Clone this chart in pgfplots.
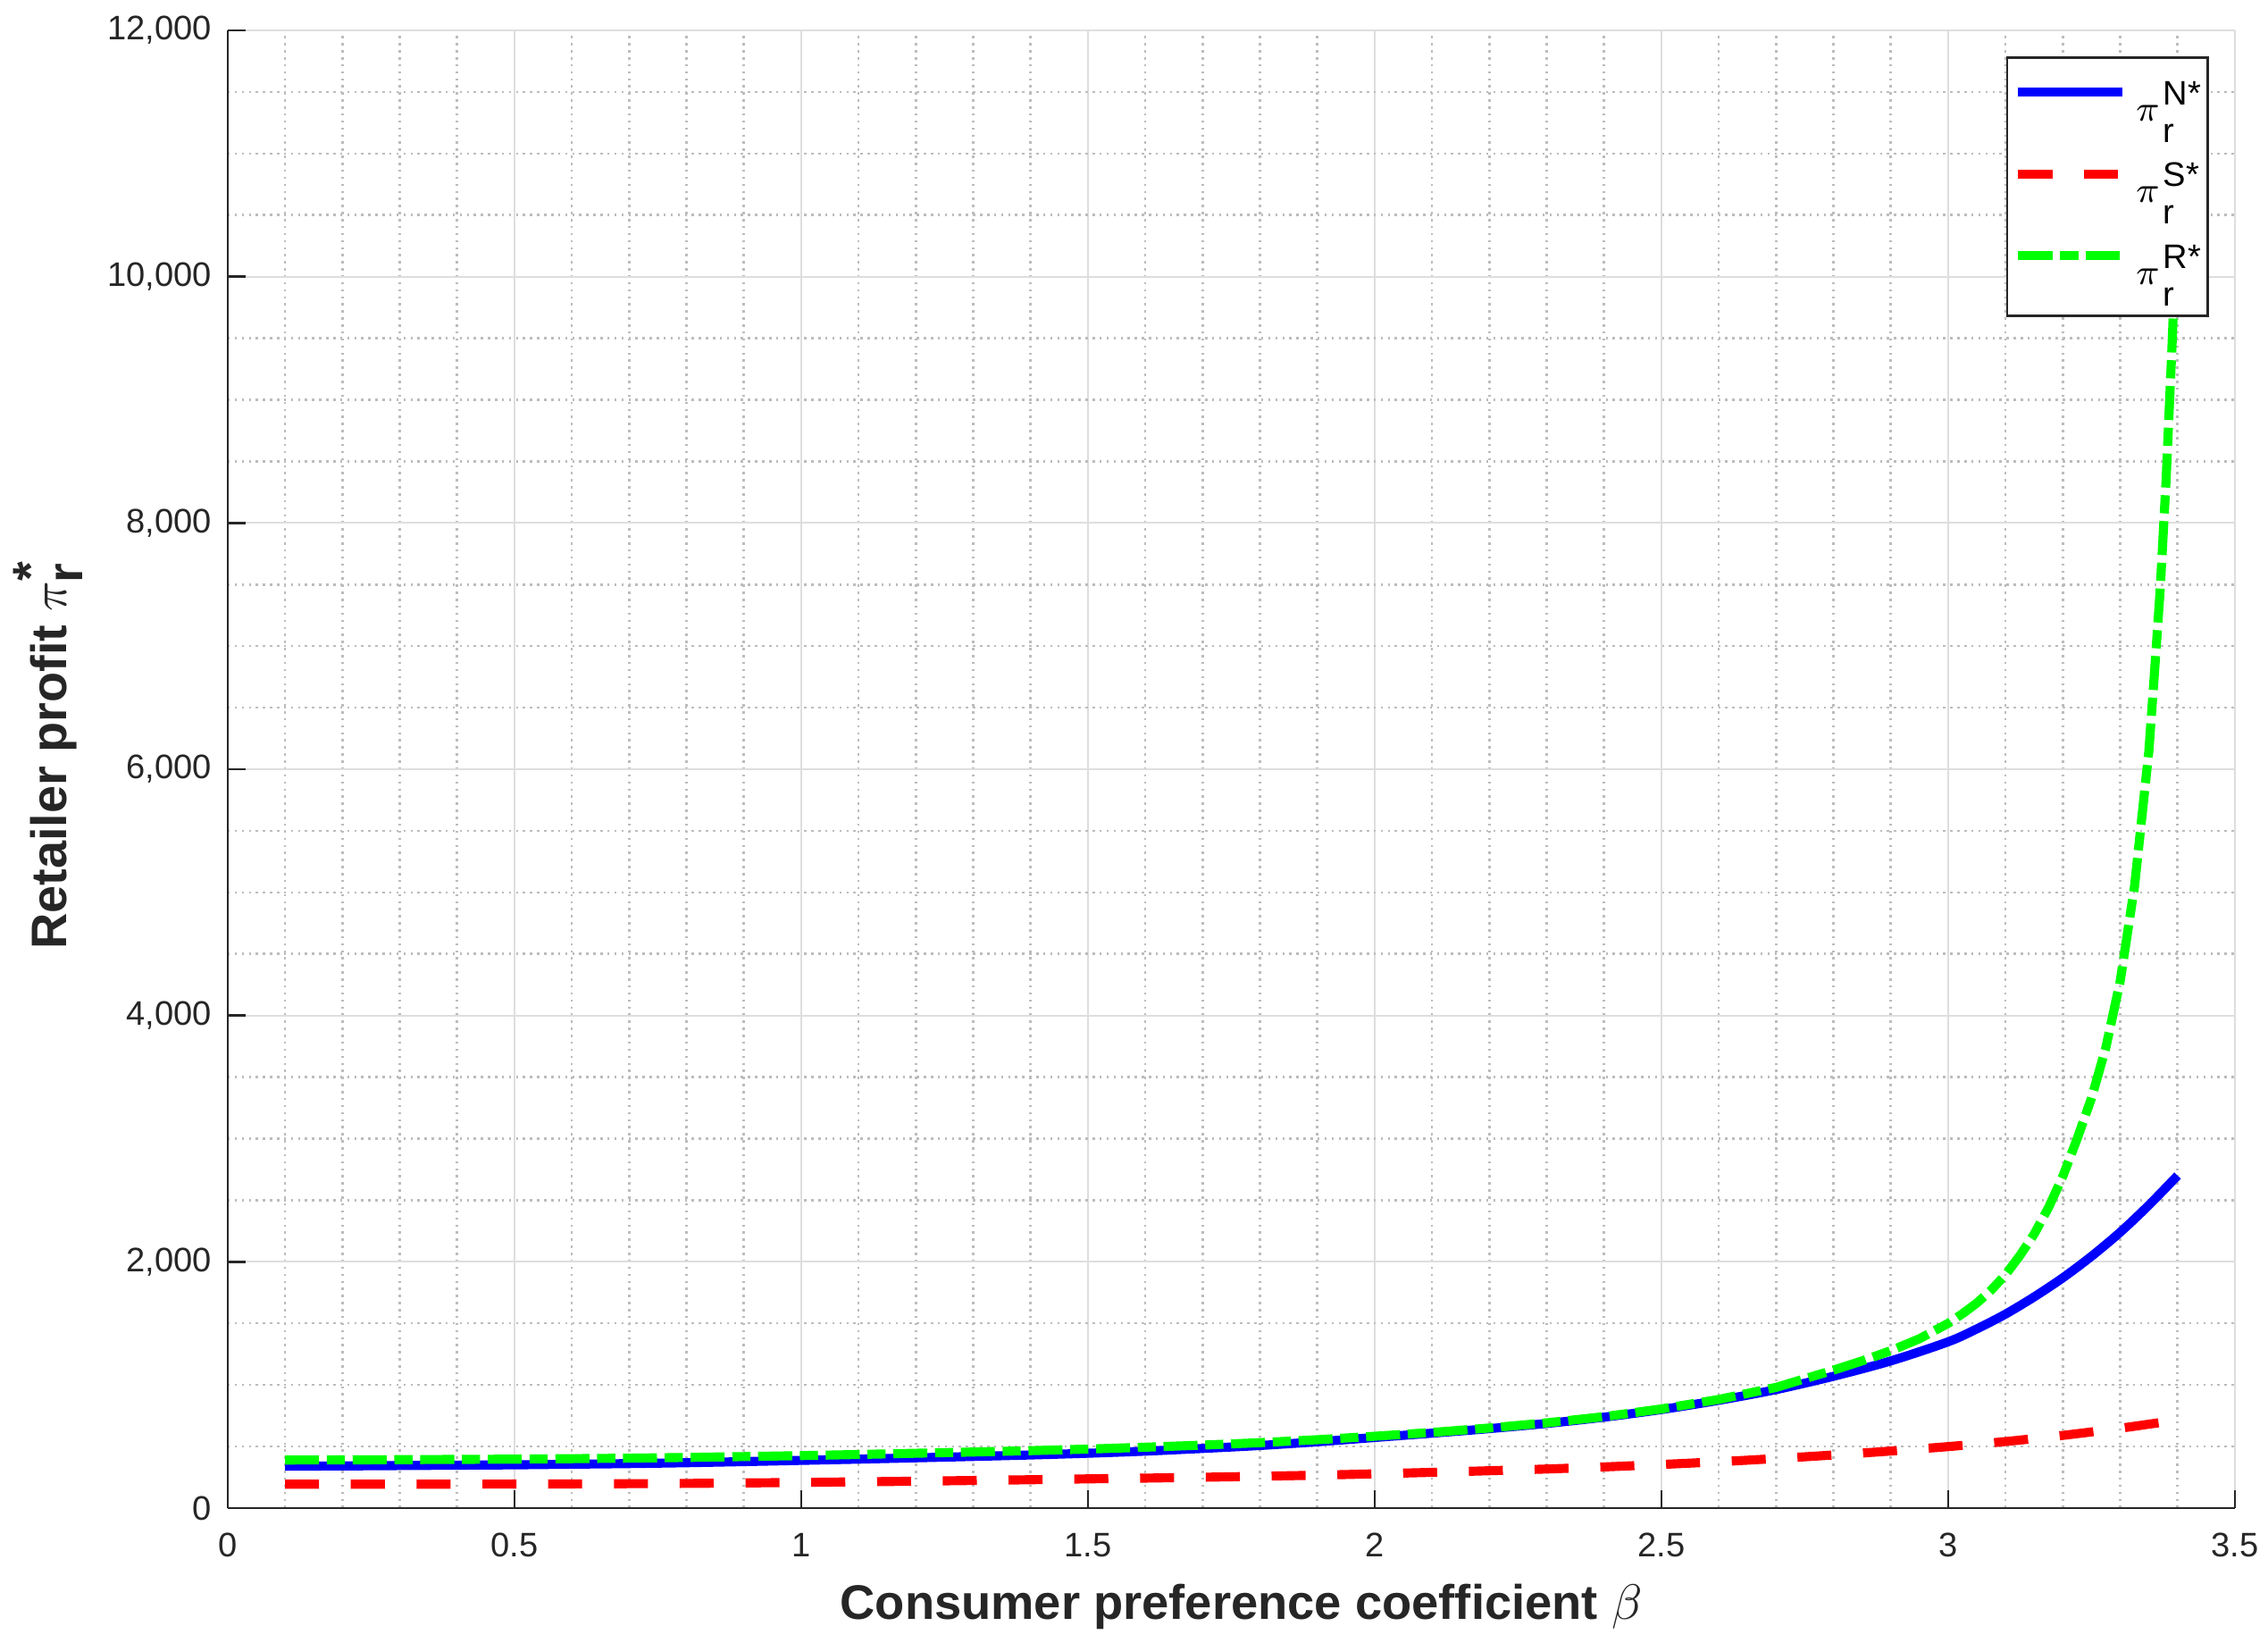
\documentclass[border=0pt]{standalone}
\usepackage{fontspec}
\setmainfont{Liberation Sans}
\usepackage{pgfplots}
\pgfplotsset{compat=1.18}
\definecolor{axgray}{RGB}{38,38,38}
\definecolor{majgrid}{RGB}{222,222,222}
\definecolor{mingrid}{RGB}{188,188,188}
% legend label: pi with subscript r and superscript, set at full size like the reference
\newcommand{\pilab}[1]{{\fontsize{8.5}{9}\selectfont$\pi$}\hspace{0.8pt}\rlap{\raisebox{-4.7pt}{r}}\raisebox{3.5pt}{#1}}
\begin{document}
\begin{tikzpicture}
\begin{axis}[
  scale only axis, width=442.5pt, height=325.7pt,
  xmin=0, xmax=3.5, ymin=0, ymax=12000,
  xtick={0,0.5,...,3.5}, ytick={0,2000,...,12000},
  minor x tick num=4, minor y tick num=3,
  grid=both,
  major grid style={majgrid, line width=0.35pt},
  minor grid style={mingrid, line width=0.5pt, dash pattern=on 0.5pt off 1.05pt},
  axis x line=bottom, axis y line=left,
  axis line style={-, axgray, line width=0.55pt},
  tick align=inside, major tick length=4pt, minor tick length=0pt,
  tick style={axgray, line width=0.55pt},
  scaled y ticks=false,
  /pgf/number format/.cd, 1000 sep={,}, assume math mode=true,
  /pgfplots/.cd,
  tick label style={font=\fontsize{7.5}{9}\selectfont, color=axgray},
  xticklabel style={yshift=-2pt},
  xlabel={Consumer preference coefficient $\beta$},
  ylabel={Retailer profit $\pi_{\mbox{r}}^{\mbox{*}}$},
  xlabel style={at={(axis description cs:0.5,0)}, anchor=base, yshift=-24.6pt, xshift=2.2pt,
    font=\fontsize{10.7}{13}\selectfont\bfseries, color=axgray},
  ylabel style={at={(axis description cs:-0.107,0.51)}, anchor=north, inner sep=0pt,
    font=\fontsize{11}{13}\selectfont\bfseries, color=axgray},
  legend style={at={(1,1)}, anchor=north east, xshift=-5.7pt, yshift=-5.7pt,
    draw=axgray, line width=0.5pt, fill=white, inner sep=1.5pt,
    column sep=2pt, row sep=0pt,
    nodes={inner sep=0pt, text height=12.5pt, text depth=5.5pt,
      font=\fontsize{7.5}{9}\selectfont}},
  legend cell align=left,
  legend image code/.code={\draw[#1] (0pt,2.8pt) -- (23pt,2.8pt);},
]
\coordinate (bbSW) at (rel axis cs:0,0);
\coordinate (bbNE) at (rel axis cs:1,1);
\addplot[blue, line width=2pt, smooth] coordinates {
(0.1,340)(0.2,342)(0.3,345)(0.4,348)(0.5,351)(0.6,356)(0.7,361)(0.8,368)(0.9,377)
(1.0,387)(1.1,397)(1.2,408)(1.3,419)(1.4,431)(1.5,445)(1.6,462)(1.7,484)(1.8,508)
(1.9,538)(2.0,573)(2.1,608)(2.2,645)(2.3,687)(2.4,738)(2.5,800)(2.6,875)(2.7,962)
(2.8,1070)(2.9,1195)(3.0,1350)(3.05,1455)(3.1,1575)(3.15,1715)(3.2,1870)(3.25,2045)
(3.3,2240)(3.35,2460)(3.4,2700)};
\addlegendentry{\pilab{N*}}
\addplot[red, line width=2pt, smooth, dash pattern=on 7.5pt off 7pt] coordinates {
(0.1,194)(0.2,194)(0.3,194)(0.4,194)(0.5,195)(0.6,196)(0.7,198)(0.8,200)(0.9,204)
(1.0,208)(1.1,213)(1.2,218)(1.3,224)(1.4,230)(1.5,237)(1.6,243)(1.7,250)(1.8,258)
(1.9,267)(2.0,278)(2.1,290)(2.2,303)(2.3,317)(2.4,334)(2.5,354)(2.6,376)(2.7,402)
(2.8,431)(2.9,463)(3.0,499)(3.1,540)(3.2,590)(3.3,648)(3.4,715)};
\addlegendentry{\pilab{S*}}
\addplot[green, line width=2pt, dash pattern=on 7.5pt off 1.7pt on 4pt off 1.7pt] coordinates {
(0.1,390)(0.2,391)(0.3,393)(0.4,395)(0.5,397)(0.6,401)(0.7,405)(0.8,411)(0.9,418)
(1.0,426)(1.1,435)(1.2,445)(1.3,455)(1.4,466)(1.5,479)(1.6,494)(1.7,511)(1.8,531)
(1.9,555)(2.0,583)(2.1,614)(2.2,650)(2.3,692)(2.4,742)(2.5,805)(2.6,882)(2.7,980)
(2.8,1120)(2.85,1195)(2.9,1278)(2.95,1375)(3.0,1500)(3.025,1578)(3.05,1665)(3.075,1770)
(3.1,1895)(3.125,2050)(3.15,2225)(3.175,2440)(3.2,2695)(3.225,3000)(3.25,3330)
(3.275,3740)(3.3,4280)(3.325,5050)(3.35,6150)(3.36,6800)(3.37,7480)(3.38,8350)
(3.39,9400)(3.395,10000)(3.4,10600)};
\addlegendentry{\pilab{R*}}
\end{axis}
\pgfresetboundingbox
\path ([xshift=-50.2pt,yshift=-29.7pt]bbSW) rectangle ([xshift=7.3pt,yshift=6.7pt]bbNE);
\end{tikzpicture}
\end{document}
